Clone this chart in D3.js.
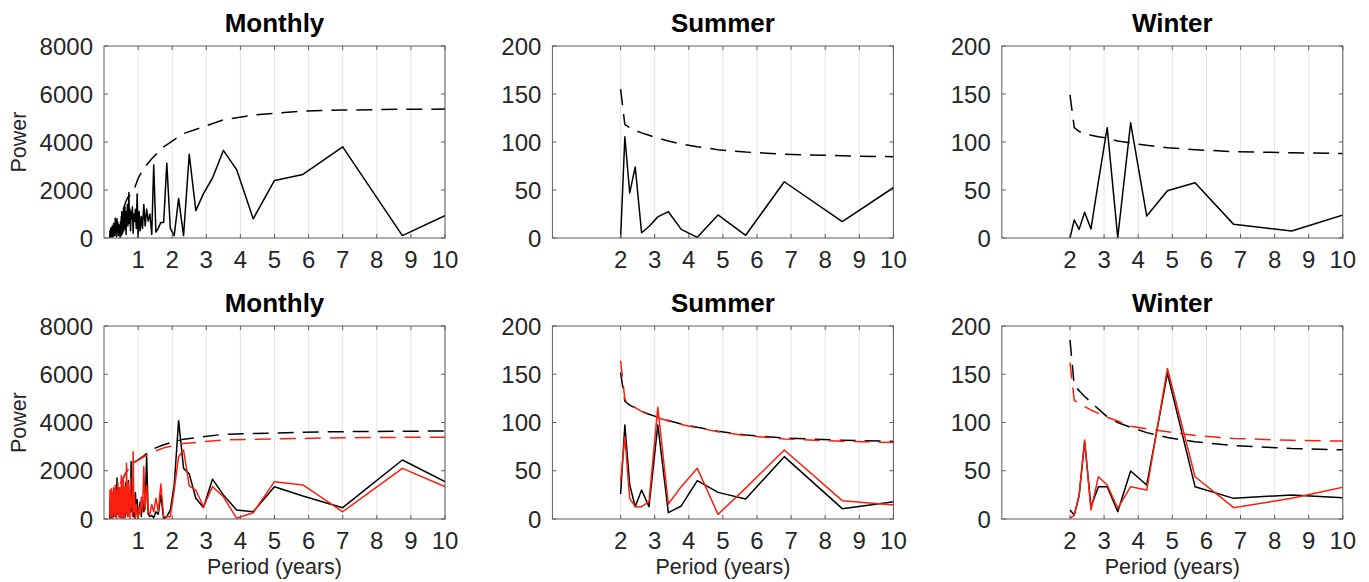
<!DOCTYPE html>
<html>
<head>
<meta charset="utf-8">
<script src="https://cdn.jsdelivr.net/npm/d3@7"></script>
<style>
body { margin: 0; background: #fff; }
svg { display: block; font-family: "Liberation Sans", Arial, Helvetica, sans-serif; }
</style>
</head>
<body>
<div id="chart"></div>
<script>
// periods (years) of the monthly spectrum
const monthlyPeriod = [0.167, 0.175, 0.184, 0.194, 0.206, 0.219, 0.233, 0.241, 0.25, 0.259,
    0.269, 0.28, 0.292, 0.304, 0.318, 0.33, 0.343, 0.357, 0.368, 0.38,
    0.393, 0.407, 0.422, 0.438, 0.449, 0.46, 0.473, 0.486, 0.5,
    0.507, 0.515, 0.522, 0.53, 0.538, 0.547, 0.556, 0.565, 0.574, 0.583,
    0.593, 0.603, 0.614, 0.625, 0.636, 0.648, 0.66, 0.673, 0.686, 0.7,
    0.714, 0.729, 0.745, 0.761, 0.778, 0.795, 0.814, 0.833, 0.854, 0.875,
    0.897, 0.921, 0.946, 0.972, 1.0,
    1.029, 1.061, 1.094, 1.129, 1.167, 1.207, 1.25, 1.296, 1.346, 1.4,
    1.458, 1.522, 1.591, 1.667, 1.75, 1.842, 1.944,
    2.059, 2.188, 2.333, 2.5, 2.692, 2.917, 3.182, 3.5, 3.889, 4.375,
    5.0, 5.833, 7.0, 8.75, 11.667];

const monthlyTop = [0, 300, 50, 420, 100, 380, 30, 500, 150, 450,
    60, 600, 200, 550, 100, 820, 250, 700, 50, 800,
    300, 650, 100, 550, 200, 450, 20, 700, 300,
    900, 100, 1100, 400, 700, 200, 1000, 500, 1200, 300,
    800, 600, 1300, 400, 900, 150, 1100, 700, 1400, 500,
    1000, 1900, 600, 1200, 300, 1100, 800, 1300, 200, 1000,
    700, 1200, 400, 1830, 0,
    1100, 300, 900, 400, 1400, 500, 1200, 700, 1000, 150,
    3040, 250, 400, 650, 650, 3110, 400,
    100, 1650, 100, 3490, 1140, 1850, 2500, 3650, 2850, 800,
    2400, 2650, 3800, 100, 2040];

const monthlyBotBlack = [0, 700, 100, 600, 50, 900, 200, 500, 50, 1100,
    300, 800, 100, 1200, 400, 700, 100, 1000, 300, 1700,
    200, 900, 500, 1300, 100, 800, 300, 1100, 50,
    900, 400, 1690, 200, 700, 100, 1000, 300, 800, 50,
    1200, 400, 900, 100, 1500, 600, 1000, 200, 800, 100,
    1600, 500, 700, 300, 900, 2380, 300, 1200, 100, 700,
    50, 1100, 300, 800, 50,
    400, 700, 100, 900, 300, 600, 2580, 200, 100, 150,
    50, 300, 200, 1000, 0, 100, 370,
    1400, 4075, 2100, 1870, 860, 480, 1650, 1000, 370, 300,
    1340, 950, 470, 2445, 350];

const monthlyBotRed = [200, 1200, 0, 900, 100, 1250, 300, 700, 0, 1100,
    200, 1300, 500, 900, 100, 1400, 300, 800, 0, 1200,
    400, 1500, 200, 1000, 50, 1300, 600, 900, 100,
    1800, 300, 1100, 0, 1400, 500, 800, 100, 1600, 300,
    1000, 0, 1300, 600, 900, 200, 2310, 400, 1100, 100,
    1500, 300, 1200, 0, 1700, 500, 900, 100, 2790, 300,
    1000, 0, 600, 200, 0,
    500, 200, 900, 300, 2170, 400, 1400, 300, 200, 600,
    300, 860, 300, 1450, 100, 95, 95,
    1200, 2580, 2860, 1370, 1200, 510, 1340, 925, 30, 260,
    1547, 1410, 300, 2100, 330];

// significance curves of the monthly spectrum
const monthlyDashPeriod = [0.486, 0.565, 0.636, 0.7, 0.778, 0.875, 1.0, 1.167, 1.4, 1.75,
    2.333, 3.5, 4.375, 5.833, 7.0, 8.75, 11.667];
const monthlyTopDash = [null, 1200, 1500, 1700, 1800, 2000, 2480, 2900, 3300, 3800,
    4350, 4920, 5120, 5290, 5330, 5365, 5380];
const monthlyBotDashBlack = [1480, 1700, 1900, 2050, 2200, 2350, 2450, 2620, 2880, 3080,
    3310, 3510, 3540, 3600, 3620, 3640, 3655];
const monthlyBotDashRed = [1480, 1700, 1900, 2050, 2200, 2350, 2430, 2580, 2760, 2950,
    3130, 3275, 3300, 3340, 3370, 3385, 3395];

// periods (years) of the seasonal spectra
const seasonPeriod = [2.0, 2.125, 2.267, 2.429, 2.615, 2.833, 3.091, 3.4, 3.778, 4.25,
    4.857, 5.667, 6.8, 8.5, 11.333];

const summerTop = [0, 105.5, 47, 74, 5.5, 12, 22, 27.4, 9, 0.7, 24, 2.8, 58.6, 17, 84];
const summerTopDash = [155, 118, 115, 112, 109.5, 107, 104, 101, 98, 95, 92, 89.5, 87.3, 85.6, 83.8];
const summerBotBlack = [25.9, 97.4, 35.2, 12.8, 30, 12.8, 97.4, 6.6, 13.5, 39.7, 27.6, 20.7, 64.6, 10.7, 24.3];
const summerBotRed = [38.7, 85.3, 21.4, 12.8, 12.8, 18, 115.7, 15.5, 33.5, 52.5, 4.8, 32, 71.5, 19, 10.5];
const summerBotDashBlack = [152, 122, 118, 115, 111.5, 108.5, 105.5, 102, 98.5, 95, 91, 87, 84, 81.5, 79.5];
const summerBotDashRed = [164, 124, 119, 115.5, 111.5, 108, 105, 101.5, 98, 94.5, 90.5, 86.5, 83, 80.5, 78];

const winterTop = [0, 18.75, 9, 26.8, 9.4, 59, 114.9, 0.5, 120, 22.9, 49.3, 57.6, 14.2, 7.3, 38.8];
const winterTopDash = [149, 115, 111, 109, 107, 105.5, 104, 101, 99, 96.5, 94, 92, 90, 88.8, 87.2];
const winterBotBlack = [9.3, 4.1, 24, 80, 12.8, 33.5, 33.5, 7.6, 49.7, 35.2, 151, 33.5, 21.4, 24.9, 19.6];
const winterBotRed = [0.7, 4, 24.9, 81.9, 9.3, 43.8, 35.2, 11, 33.5, 30, 156, 43.8, 11.7, 21.4, 42.9];
const winterBotDashBlack = [185.5, 138, 133, 127, 121, 114, 106, 100, 95, 89.5, 84.5, 80, 76, 73, 70.5];
const winterBotDashRed = [162, 123, 120, 116.5, 113, 109.5, 105.5, 101.5, 96, 93.5, 90.5, 86.5, 83.5, 81.5, 80];

// tick labels
const monthlyXTicks = [1, 2, 3, 4, 5, 6, 7, 8, 9, 10];
const seasonXTicks = [2, 3, 4, 5, 6, 7, 8, 9, 10];
const monthlyYTicks = [0, 2000, 4000, 6000, 8000];
const seasonYTicks = [0, 50, 100, 150, 200];

const titles = ["Monthly", "Summer", "Winter"];
const yLabel = "Power";
const xLabel = "Period (years)";

function mainChart() {
    let W = 1369, H = 582;
    let colLeft = [104, 552.4, 1001.8];
    let boxW = 341;
    let rowTop = [46, 326];
    let boxH = [192, 193];
    let black = "#000000", red = "#fa1e0e";
    let axisColor = "#5c5c5c";
    let tickFont = "24px", titleFont = "bold 26px", labelFont = "21.5px";

    let svg = d3.select("#chart").append("svg")
        .attr("width", W)
        .attr("height", H);

    let panels = [
        {col: 0, row: 0, yMax: 8000, xTicks: monthlyXTicks, yTicks: monthlyYTicks, series: [
            {x: monthlyPeriod, y: monthlyTop, color: black, dash: false},
            {x: monthlyDashPeriod, y: monthlyTopDash, color: black, dash: true}]},
        {col: 1, row: 0, yMax: 200, xTicks: seasonXTicks, yTicks: seasonYTicks, series: [
            {x: seasonPeriod, y: summerTop, color: black, dash: false},
            {x: seasonPeriod, y: summerTopDash, color: black, dash: true}]},
        {col: 2, row: 0, yMax: 200, xTicks: seasonXTicks, yTicks: seasonYTicks, series: [
            {x: seasonPeriod, y: winterTop, color: black, dash: false},
            {x: seasonPeriod, y: winterTopDash, color: black, dash: true}]},
        {col: 0, row: 1, yMax: 8000, xTicks: monthlyXTicks, yTicks: monthlyYTicks, series: [
            {x: monthlyPeriod, y: monthlyBotBlack, color: black, dash: false},
            {x: monthlyDashPeriod, y: monthlyBotDashBlack, color: black, dash: true},
            {x: monthlyPeriod, y: monthlyBotRed, color: red, dash: false},
            {x: monthlyDashPeriod, y: monthlyBotDashRed, color: red, dash: true}]},
        {col: 1, row: 1, yMax: 200, xTicks: seasonXTicks, yTicks: seasonYTicks, series: [
            {x: seasonPeriod, y: summerBotBlack, color: black, dash: false},
            {x: seasonPeriod, y: summerBotDashBlack, color: black, dash: true},
            {x: seasonPeriod, y: summerBotRed, color: red, dash: false},
            {x: seasonPeriod, y: summerBotDashRed, color: red, dash: true}]},
        {col: 2, row: 1, yMax: 200, xTicks: seasonXTicks, yTicks: seasonYTicks, series: [
            {x: seasonPeriod, y: winterBotBlack, color: black, dash: false},
            {x: seasonPeriod, y: winterBotDashBlack, color: black, dash: true},
            {x: seasonPeriod, y: winterBotRed, color: red, dash: false},
            {x: seasonPeriod, y: winterBotDashRed, color: red, dash: true}]}
    ];

    panels.forEach(function(p, i) {
        let x0 = colLeft[p.col], y0 = rowTop[p.row], h = boxH[p.row];
        let x = d3.scaleLinear().domain([0, 10]).range([x0, x0 + boxW]);
        let y = d3.scaleLinear().domain([0, p.yMax]).range([y0 + h, y0]);
        let g = svg.append("g");

        // vertical grid
        g.selectAll("line.grid")
            .data(p.xTicks)
            .enter().append("line")
            .attr("class", "grid")
            .attr("x1", d => x(d)).attr("x2", d => x(d))
            .attr("y1", y0).attr("y2", y0 + h)
            .style("stroke", "#e4e4e4")
            .style("stroke-width", 1);

        // clip
        svg.append("clipPath").attr("id", "clip" + i)
            .append("rect")
            .attr("x", x0).attr("y", y0 - 1)
            .attr("width", boxW).attr("height", h + 1);

        let plot = g.append("g").attr("clip-path", "url(#clip" + i + ")");
        p.series.forEach(function(s) {
            let pts = s.x.map((v, j) => [v, s.y[j]]);
            let line = d3.line()
                .defined(d => d[1] !== null)
                .x(d => x(d[0]))
                .y(d => y(d[1]));
            plot.append("path")
                .datum(pts)
                .attr("d", line)
                .style("fill", "none")
                .style("stroke", s.color)
                .style("stroke-width", 1.5)
                .style("stroke-linejoin", "round")
                .style("stroke-dasharray", s.dash ? "16,9" : null);
        });

        // box
        g.append("rect")
            .attr("x", x0).attr("y", y0)
            .attr("width", boxW).attr("height", h)
            .style("fill", "none")
            .style("stroke", axisColor)
            .style("stroke-width", 1);

        // y ticks (left and right, inward)
        p.yTicks.forEach(function(t) {
            g.append("line").attr("x1", x0).attr("x2", x0 + 4)
                .attr("y1", y(t)).attr("y2", y(t)).style("stroke", axisColor);
            g.append("line").attr("x1", x0 + boxW).attr("x2", x0 + boxW - 4)
                .attr("y1", y(t)).attr("y2", y(t)).style("stroke", axisColor);
        });
        g.selectAll("text.ytick")
            .data(p.yTicks)
            .enter().append("text")
            .attr("class", "ytick")
            .attr("x", x0 - 11)
            .attr("y", d => y(d))
            .attr("dy", "0.36em")
            .attr("text-anchor", "end")
            .style("font-size", tickFont)
            .style("fill", "#262626")
            .text(d => d);

        // x ticks
        p.xTicks.forEach(function(t) {
            g.append("line").attr("x1", x(t)).attr("x2", x(t))
                .attr("y1", y0 + h).attr("y2", y0 + h - 4).style("stroke", axisColor);
            g.append("line").attr("x1", x(t)).attr("x2", x(t))
                .attr("y1", y0).attr("y2", y0 + 4).style("stroke", axisColor);
        });
        g.selectAll("text.xtick")
            .data(p.xTicks)
            .enter().append("text")
            .attr("class", "xtick")
            .attr("x", d => x(d))
            .attr("y", y0 + h + 30)
            .attr("text-anchor", "middle")
            .style("font-size", tickFont)
            .style("fill", "#262626")
            .text(d => d);

        // title
        g.append("text")
            .attr("x", x0 + boxW / 2)
            .attr("y", y0 - 14.5)
            .attr("text-anchor", "middle")
            .style("font", titleFont + " 'Liberation Sans', Arial, sans-serif")
            .style("fill", "#000")
            .text(titles[p.col]);

        if (p.col == 0) {
            g.append("text")
                .attr("transform", "translate(26," + (y0 + h / 2) + ") rotate(-90)")
                .attr("text-anchor", "middle")
                .style("font-size", labelFont)
                .style("fill", "#262626")
                .text(yLabel);
        }
        if (p.row == 1) {
            g.append("text")
                .attr("x", x0 + boxW / 2)
                .attr("y", y0 + h + 55)
                .attr("text-anchor", "middle")
                .style("font-size", labelFont)
                .style("fill", "#262626")
                .text(xLabel);
        }
    });
}

mainChart();
</script>
</body>
</html>
